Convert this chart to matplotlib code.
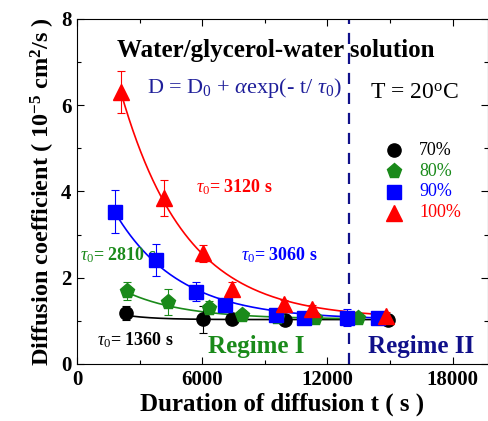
import numpy as np
import matplotlib
matplotlib.use("Agg")
import matplotlib.pyplot as plt
from matplotlib.ticker import MultipleLocator

plt.rcParams['font.family'] = ['Liberation Serif', 'DejaVu Serif']
plt.rcParams['mathtext.fontset'] = 'custom'
plt.rcParams['mathtext.rm'] = 'Liberation Serif'
plt.rcParams['mathtext.it'] = 'Liberation Serif:italic'
plt.rcParams['mathtext.bf'] = 'Liberation Serif:bold'

labels = ["70%", "80%", "90%", "100%"]
colors = ["black", "#1a8a1a", "blue", "red"]
markers = ["o", "p", "s", "^"]

t70 = [2350, 6050, 7450, 9950, 14900]
d70 = [1.18, 1.04, 1.04, 1.02, 1.02]
e70 = [0.17, 0.31, 0.08, 0.12, 0.06]

t80 = [2400, 4370, 6350, 7900, 9600, 11400, 13450]
d80 = [1.69, 1.44, 1.30, 1.14, 1.09, 1.07, 1.07]
e80 = [0.20, 0.30, 0.15, 0.12, 0.10, 0.10, 0.08]

t90 = [1800, 3800, 5700, 7100, 9550, 10900, 12950, 14450]
d90 = [3.53, 2.41, 1.67, 1.37, 1.14, 1.07, 1.07, 1.07]
e90 = [0.50, 0.38, 0.22, 0.12, 0.10, 0.08, 0.20, 0.06]

t100 = [2100, 4180, 6050, 7450, 9900, 11250, 14800]
d100 = [6.31, 3.85, 2.57, 1.74, 1.39, 1.27, 1.12]
e100 = [0.49, 0.41, 0.20, 0.15, 0.10, 0.10, 0.08]

# fitted model parameters D = D0 + alpha*exp(-t/tau)
fit_D0 = [1.03, 1.04, 1.03, 1.05]
fit_alpha = [0.56, 1.46, 4.5, 10.3]
fit_tau = [1360, 2810, 3060, 3120]

series = [(t70, d70, e70), (t80, d80, e80), (t90, d90, e90), (t100, d100, e100)]

fig = plt.figure(figsize=(4.89, 4.21), dpi=100)
ax = fig.add_axes([0.1575, 0.1354, 0.8405, 0.8195])

def msize(m):
    return 11 if m in ('^', 'p') else 9.5

for i, (t, d, e) in enumerate(series):
    tt = np.linspace(min(t), max(t), 200)
    ax.plot(tt, fit_D0[i] + fit_alpha[i] * np.exp(-tt / fit_tau[i]), color=colors[i], lw=1.2, zorder=2)
    ax.errorbar(t, d, yerr=e, fmt='none', ecolor=colors[i], elinewidth=0.8, capsize=3, capthick=0.8, zorder=3)
    ax.plot(t, d, linestyle='none', marker=markers[i], color=colors[i],
            markersize=msize(markers[i]), zorder=4)

ax.axvline(13060, color='#10108a', lw=1.6, ls=(0, (5, 4)), zorder=1)

ax.set_xlim(0, 19700)
ax.set_ylim(0, 8)
ax.xaxis.set_major_locator(MultipleLocator(6000))
ax.xaxis.set_minor_locator(MultipleLocator(3000))
ax.yaxis.set_major_locator(MultipleLocator(2))
ax.yaxis.set_minor_locator(MultipleLocator(1))
ax.tick_params(which='both', direction='in', top=True, right=True, width=0.8)
ax.tick_params(which='major', length=5, labelsize=15, pad=4)
ax.tick_params(which='minor', length=3)
for lab in ax.get_xticklabels() + ax.get_yticklabels():
    lab.set_fontweight('bold')

ax.set_xlabel("Duration of diffusion t ( s )", fontsize=18, fontweight='bold', labelpad=2)
ax.set_ylabel(r"Diffusion coefficient ( 10$^{\mathbf{-5}}$ cm$^{\mathbf{2}}$/s )", fontsize=17.5, fontweight='bold', labelpad=3)

ax.text(0.097, 0.91, "Water/glycerol-water solution", transform=ax.transAxes,
        fontsize=18, fontweight='bold', ha='left', va='center')
ax.text(0.17, 0.80, r"D = D$_0$ + $\mathit{\alpha}$exp(- t/ $\mathit{\tau}_0$)", transform=ax.transAxes,
        fontsize=16, color='#1f1f9a', ha='left', va='center')
ax.text(0.713, 0.786, r"T = 20$^{\mathrm{o}}$C", transform=ax.transAxes,
        fontsize=17, color='black', ha='left', va='center')

leg_y = [0.620, 0.559, 0.499, 0.438]
for i in range(4):
    ax.plot([0.771], [leg_y[i]], transform=ax.transAxes, linestyle='none', marker=markers[i],
            color=colors[i], markersize=msize(markers[i]), clip_on=False)
    ax.text(0.832, leg_y[i], labels[i], transform=ax.transAxes, fontsize=13,
            color=colors[i], ha='left', va='center')

ax.text(0.29, 0.513, r"$\tau_0$= 3120 s", transform=ax.transAxes, fontsize=13, fontweight='bold', color='red', va='center')
ax.text(0.008, 0.316, r"$\tau_0$= 2810 s", transform=ax.transAxes, fontsize=13, fontweight='bold', color='#1a8a1a', va='center')
ax.text(0.40, 0.316, r"$\tau_0$= 3060 s", transform=ax.transAxes, fontsize=13, fontweight='bold', color='blue', va='center')
ax.text(0.048, 0.07, r"$\tau_0$= 1360 s", transform=ax.transAxes, fontsize=13, fontweight='bold', color='black', va='center')

ax.text(0.318, 0.05, "Regime I", transform=ax.transAxes, fontsize=18, fontweight='bold', color='#1a8a1a', va='center')
ax.text(0.708, 0.05, "Regime II", transform=ax.transAxes, fontsize=18, fontweight='bold', color='#10108a', va='center')

fig.savefig("out.png", dpi=100)
